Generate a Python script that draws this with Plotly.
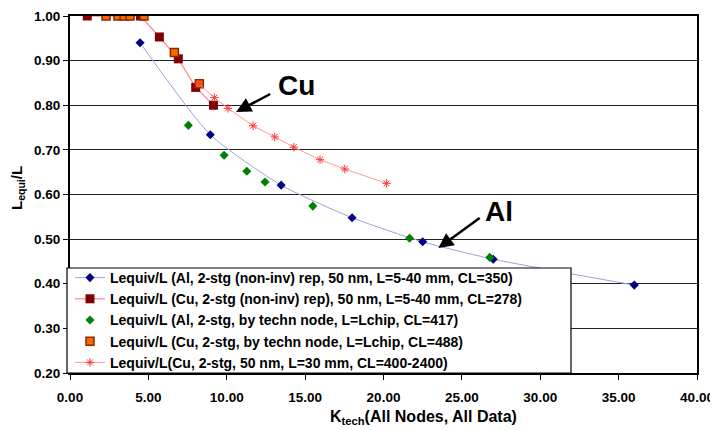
import plotly.graph_objects as go

# Series data
al_rep_x = [4.47, 8.95, 13.47, 18.0, 22.5, 27.0, 36.0]
al_rep_y = [0.94, 0.734, 0.621, 0.548, 0.494, 0.455, 0.397]

cu_rep_x = [1.1, 4.5, 5.7, 6.91, 8.02, 9.15]
cu_rep_y = [1.0, 1.0, 0.953, 0.904, 0.84, 0.80]

al_node_x = [7.55, 9.83, 11.28, 12.44, 15.49, 21.66, 26.78]
al_node_y = [0.755, 0.688, 0.652, 0.628, 0.574, 0.502, 0.459]

cu_node_x = [2.3, 3.06, 3.45, 3.83, 4.72, 6.66, 8.25]
cu_node_y = [1.0, 1.0, 1.0, 1.0, 1.0, 0.918, 0.848]

cu_50_x = [8.2, 9.21, 10.08, 11.68, 13.06, 14.28, 15.95, 17.53, 20.2]
cu_50_y = [0.848, 0.817, 0.793, 0.754, 0.729, 0.706, 0.678, 0.657, 0.625]

names = [
    "Lequiv/L (Al, 2-stg (non-inv) rep, 50 nm, L=5-40 mm, CL=350)",
    "Lequiv/L (Cu, 2-stg (non-inv) rep), 50 nm, L=5-40 mm, CL=278)",
    "Lequiv/L (Al, 2-stg, by techn node, L=Lchip, CL=417)",
    "Lequiv/L (Cu, 2-stg, by techn node, L=Lchip, CL=488)",
    "Lequiv/L(Cu, 2-stg, 50 nm, L=30 mm, CL=400-2400)",
]

x_ticks = [0, 5, 10, 15, 20, 25, 30, 35, 40]
y_ticks = [0.2, 0.3, 0.4, 0.5, 0.6, 0.7, 0.8, 0.9, 1.0]

FONT = "Liberation Sans, Arial, sans-serif"

fig = go.Figure()
fig.add_trace(go.Scatter(
    x=al_rep_x, y=al_rep_y, name=names[0], mode="lines+markers",
    line=dict(color="#A0A0E0", width=1, shape="spline", smoothing=0.6),
    marker=dict(symbol="diamond", size=7, color="#000080"),
))
fig.add_trace(go.Scatter(
    x=cu_rep_x, y=cu_rep_y, name=names[1], mode="lines+markers",
    line=dict(color="#FF9090", width=1.3),
    marker=dict(symbol="square", size=9, color="#800000"),
))
fig.add_trace(go.Scatter(
    x=al_node_x, y=al_node_y, name=names[2], mode="markers",
    marker=dict(symbol="diamond", size=7, color="#008000"),
))
fig.add_trace(go.Scatter(
    x=cu_node_x, y=cu_node_y, name=names[3], mode="markers",
    marker=dict(symbol="square", size=8, color="#FF6600",
                line=dict(color="#803000", width=1.5)),
))
fig.add_trace(go.Scatter(
    x=cu_50_x, y=cu_50_y, name=names[4], mode="lines+markers",
    line=dict(color="#FF9999", width=1),
    marker=dict(symbol="asterisk-open", size=7, color="#FF3333",
                line=dict(color="#FF3333", width=1)),
))

# layout geometry: page body has an 8px margin, compensate for it
OFF = 8
W, H = 718 - OFF, 430 - OFF
L, T = 70 - OFF, 16 - OFF
R = W - (697 - OFF)
B = H - (373 - OFF)
pw, ph = W - L - R, H - T - B
def px(xp):  # page pixel -> paper fraction
    return (xp - OFF - L) / pw
def py(yp):
    return 1 - (yp - OFF - T) / ph

# legend box
fig.add_shape(type="rect", xref="paper", yref="paper",
              x0=px(67), x1=px(571), y0=py(373), y1=py(268),
              fillcolor="white", line=dict(color="black", width=1.2), layer="above")

# annotations
fig.add_annotation(x=14.47, y=0.845, text="<b>Cu</b>", showarrow=False,
                   xanchor="center", yanchor="middle",
                   font=dict(size=28, family=FONT, color="black"))
fig.add_annotation(x=10.6, y=0.785, ax=12.87, ay=0.827, axref="x", ayref="y",
                   text="", showarrow=True, arrowhead=2, arrowsize=1.2,
                   arrowwidth=2.5, arrowcolor="black")
fig.add_annotation(x=27.38, y=0.563, text="<b>Al</b>", showarrow=False,
                   xanchor="center", yanchor="middle",
                   font=dict(size=28, family=FONT, color="black"))
fig.add_annotation(x=23.5, y=0.48, ax=26.23, ay=0.55, axref="x", ayref="y",
                   text="", showarrow=True, arrowhead=2, arrowsize=1.2,
                   arrowwidth=2.5, arrowcolor="black")

# axis titles
fig.add_annotation(xref="paper", yref="paper", x=px(423), y=py(417),
                   xanchor="center", yanchor="middle",
                   text="<b>K<sub>tech</sub>(All Nodes, All Data)</b>", showarrow=False,
                   font=dict(size=16, family=FONT, color="black"))
fig.add_annotation(xref="paper", yref="paper", x=px(17), y=py(188),
                   xanchor="center", yanchor="middle",
                   text="<b>L<sub>equi</sub>/L</b>", showarrow=False, textangle=-90,
                   font=dict(size=15, family=FONT, color="black"))

fig.update_xaxes(range=[0, 40], tickvals=x_ticks,
                 ticktext=[f"<b>{v:.2f}</b>" for v in x_ticks],
                 showgrid=False, zeroline=False, showline=True, mirror=True,
                 linecolor="black", linewidth=2, ticks="outside", ticklen=5,
                 tickcolor="black", ticklabelstandoff=6,
                 tickfont=dict(size=13.5, family=FONT, color="black"))
fig.update_yaxes(range=[0.2, 1.0], tickvals=y_ticks,
                 ticktext=[f"<b>{v:.2f}</b>" for v in y_ticks],
                 showgrid=True, gridcolor="#222222", gridwidth=1,
                 zeroline=False, showline=True, mirror=True,
                 linecolor="black", linewidth=2, ticks="outside", ticklen=5,
                 tickcolor="black",
                 tickfont=dict(size=13.5, family=FONT, color="black"))

fig.update_layout(
    width=W, height=H, margin=dict(l=L, r=R, t=T, b=B, autoexpand=False),
    paper_bgcolor="white", plot_bgcolor="white",
    font=dict(family=FONT, color="black"),
    showlegend=True,
    legend=dict(x=px(70), y=py(262), xanchor="left", yanchor="top",
                bgcolor="rgba(0,0,0,0)", borderwidth=0,
                font=dict(size=14, family=FONT, color="black", weight="bold"),
                tracegroupgap=0),
)

fig.write_html("out.html")
